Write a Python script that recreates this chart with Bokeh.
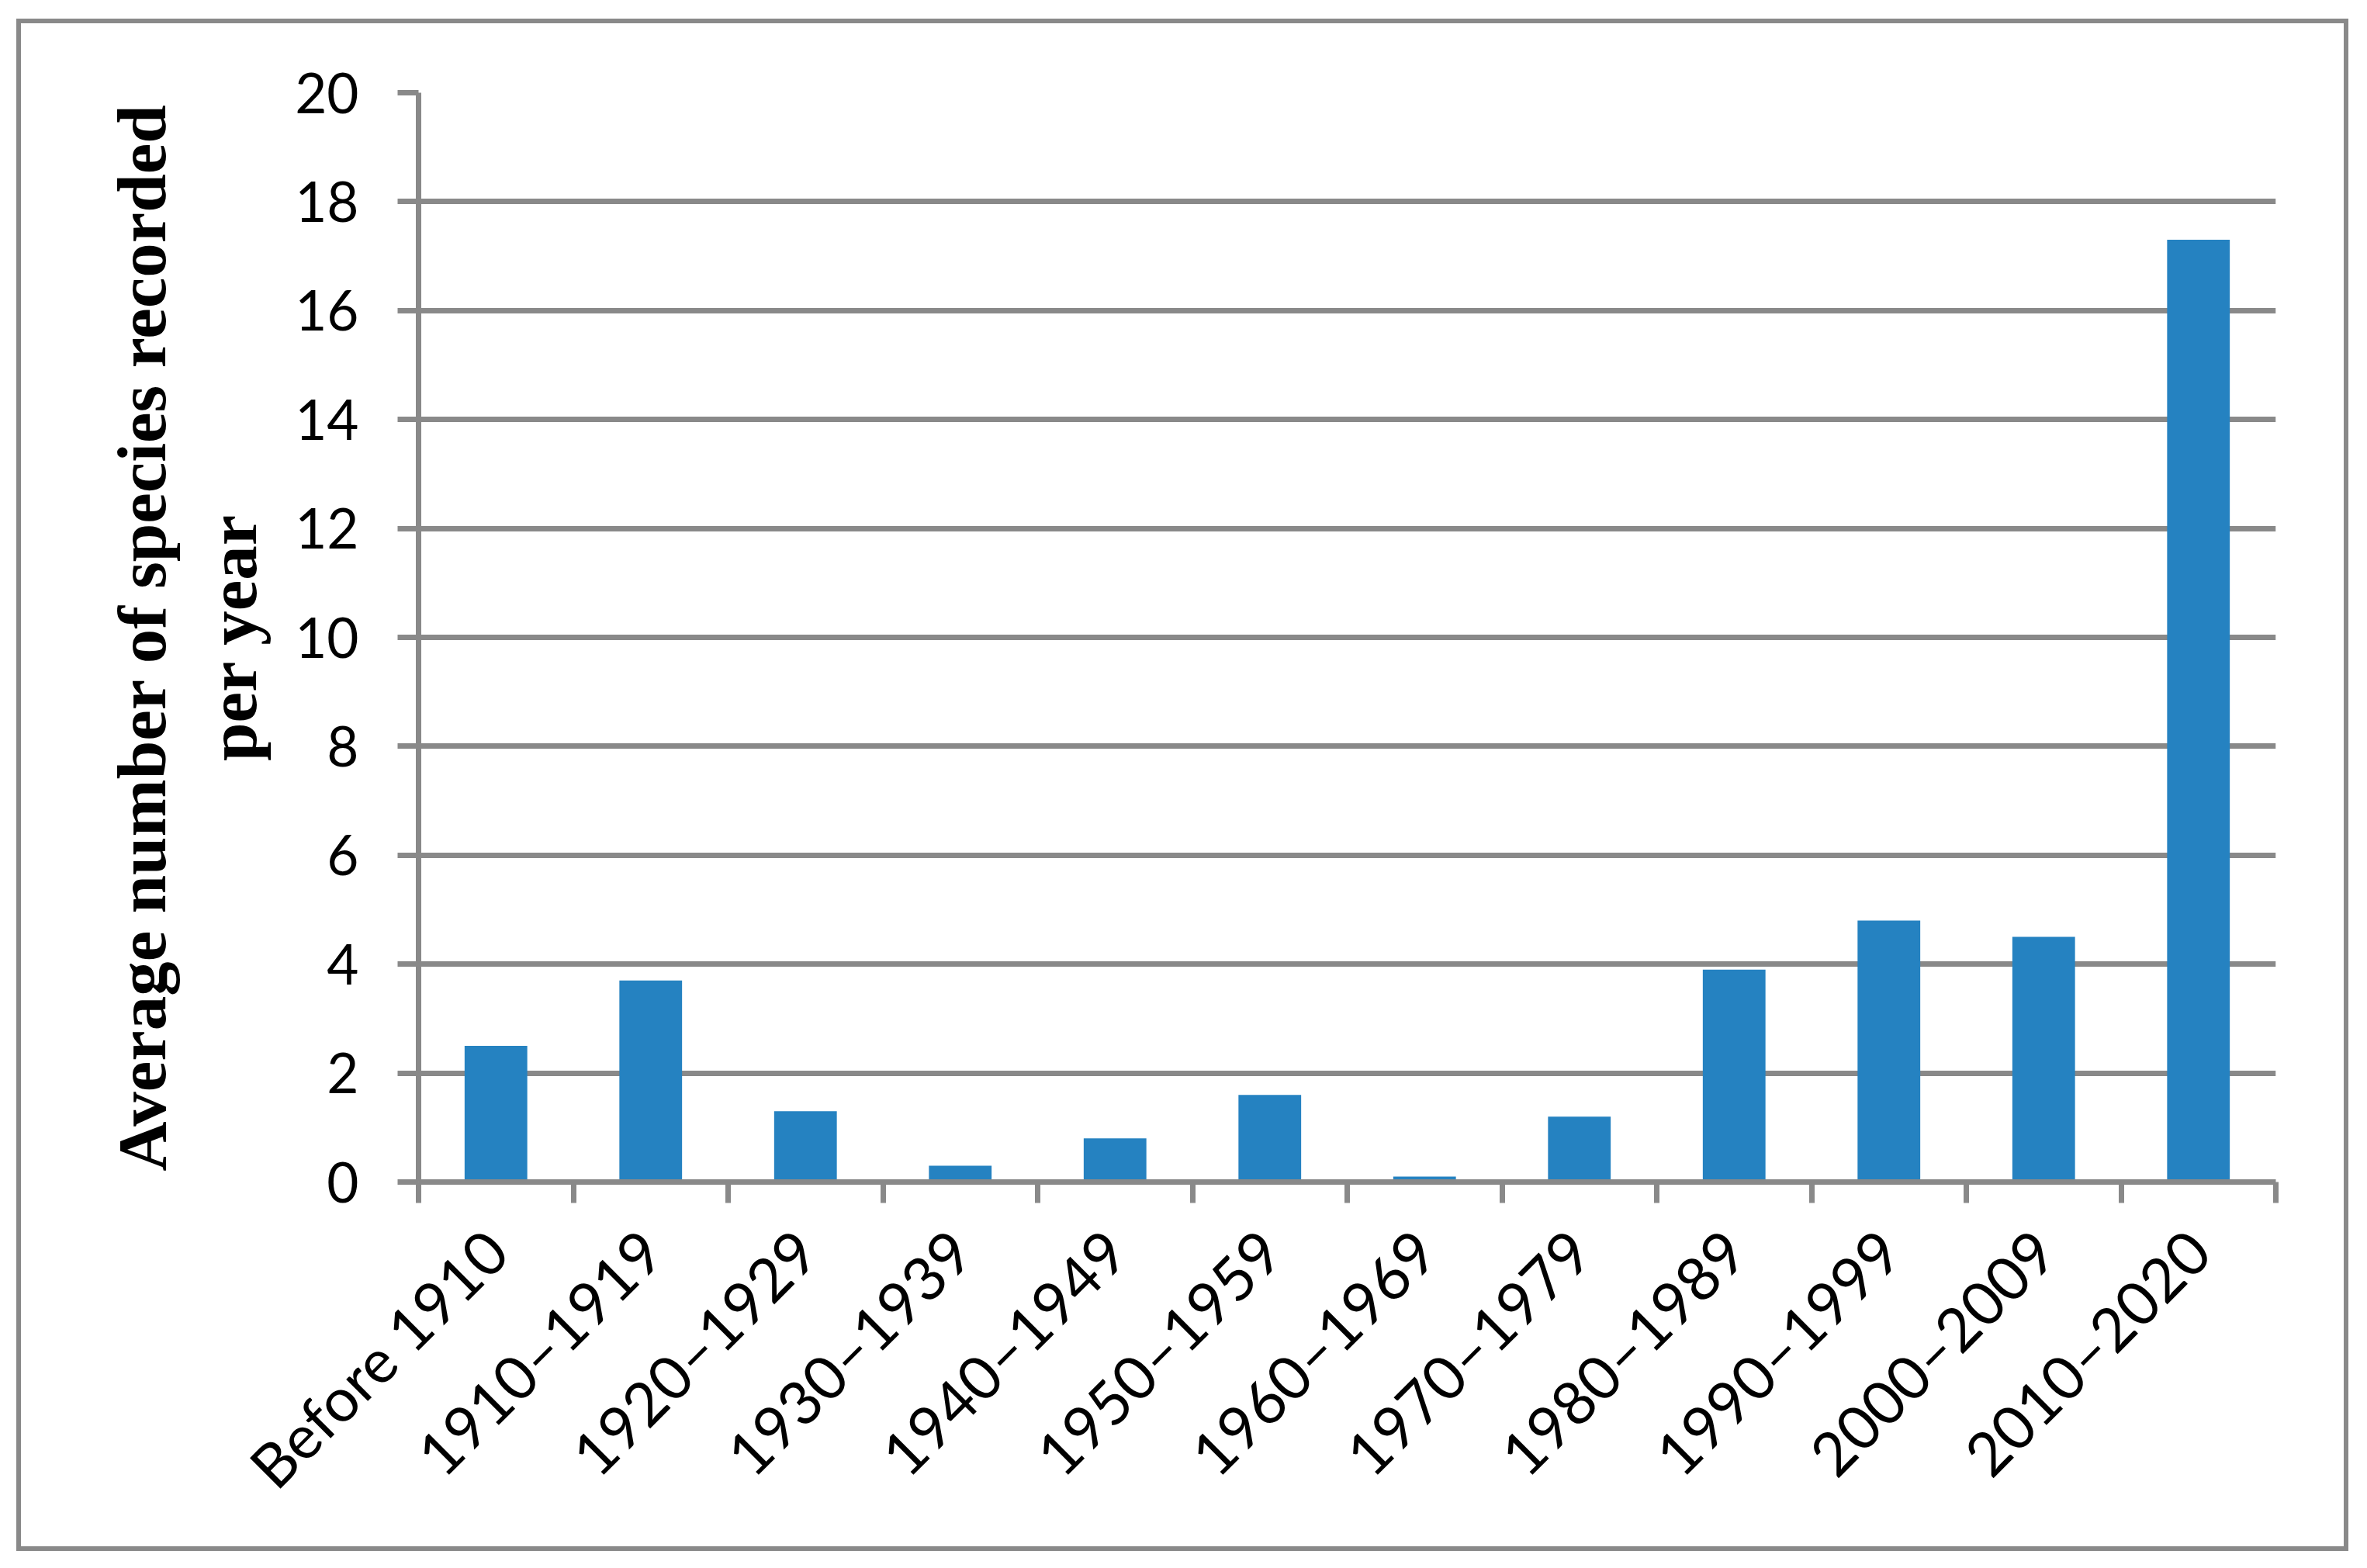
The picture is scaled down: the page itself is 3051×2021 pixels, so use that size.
import math
from bokeh.plotting import figure
from bokeh.models import ColumnDataSource, Range1d, FixedTicker
from bokeh.embed import file_html
from bokeh.resources import INLINE

categories = ["Before 1910", "1910–1919", "1920–1929", "1930–1939", "1940–1949",
              "1950–1959", "1960–1969", "1970–1979", "1980–1989", "1990–1999",
              "2000–2009", "2010–2020"]
values = [2.5, 3.7, 1.3, 0.3, 0.8, 1.6, 0.1, 1.2, 3.9, 4.8, 4.5, 17.3]
y_ticks = [0, 2, 4, 6, 8, 10, 12, 14, 16, 18, 20]
y_label = "Average number of species recorded\nper year"

GRAY = "#898989"
BLUE = "#2582C1"
W, H = 2994, 1963

n = len(categories)
centers = [i + 0.5 for i in range(n)]
src = ColumnDataSource(dict(x=centers, top=values, name=categories))

p = figure(width=W, height=H, output_backend="svg", toolbar_location=None,
           x_range=Range1d(0, n), y_range=Range1d(0, 20),
           min_border_left=512, min_border_right=100,
           min_border_top=89, min_border_bottom=482,
           styles={"border": "6px solid #898989", "box-sizing": "content-box",
                   "margin-left": "21px", "margin-top": "24px"})
p.outline_line_color = None
p.background_fill_color = "white"
p.border_fill_color = "white"

p.vbar(x="x", top="top", bottom=0, width=0.405, source=src,
       fill_color=BLUE, line_color=None)

# grid
p.xgrid.grid_line_color = None
p.ygrid.grid_line_color = GRAY
p.ygrid.grid_line_width = 7
p.ygrid.ticker = FixedTicker(ticks=y_ticks)

# y axis
ya = p.yaxis[0]
ya.ticker = FixedTicker(ticks=y_ticks)
ya.axis_line_color = GRAY
ya.axis_line_width = 7
ya.major_tick_line_color = GRAY
ya.major_tick_line_width = 7
ya.major_tick_out = 27
ya.major_tick_in = 0
ya.minor_tick_line_color = None
ya.major_label_text_font = "Lato"
ya.major_label_text_font_size = "71px"
ya.major_label_text_color = "black"
ya.major_label_standoff = 50
ya.axis_label = y_label
ya.axis_label_text_font = "Liberation Serif"
ya.axis_label_text_font_style = "bold"
ya.axis_label_text_font_size = "89px"
ya.axis_label_text_color = "black"
ya.axis_label_text_line_height = 1.2
ya.axis_label_standoff = 28

# x axis: labels at category centres, tick marks at category boundaries
xa = p.xaxis[0]
xa.ticker = FixedTicker(ticks=centers, minor_ticks=list(range(n + 1)))
xa.major_label_overrides = {c: lab for c, lab in zip(centers, categories)}
xa.axis_line_color = GRAY
xa.axis_line_width = 7
xa.major_tick_line_color = None
xa.major_tick_out = 0
xa.major_tick_in = 0
xa.minor_tick_line_color = GRAY
xa.minor_tick_line_width = 7
xa.minor_tick_out = 27
xa.minor_tick_in = 0
xa.major_label_orientation = math.pi / 4
xa.major_label_text_font = "Lato"
xa.major_label_text_font_size = "78px"
xa.major_label_text_color = "black"
xa.major_label_standoff = 48

open("out.html", "w").write(file_html(p, INLINE))
